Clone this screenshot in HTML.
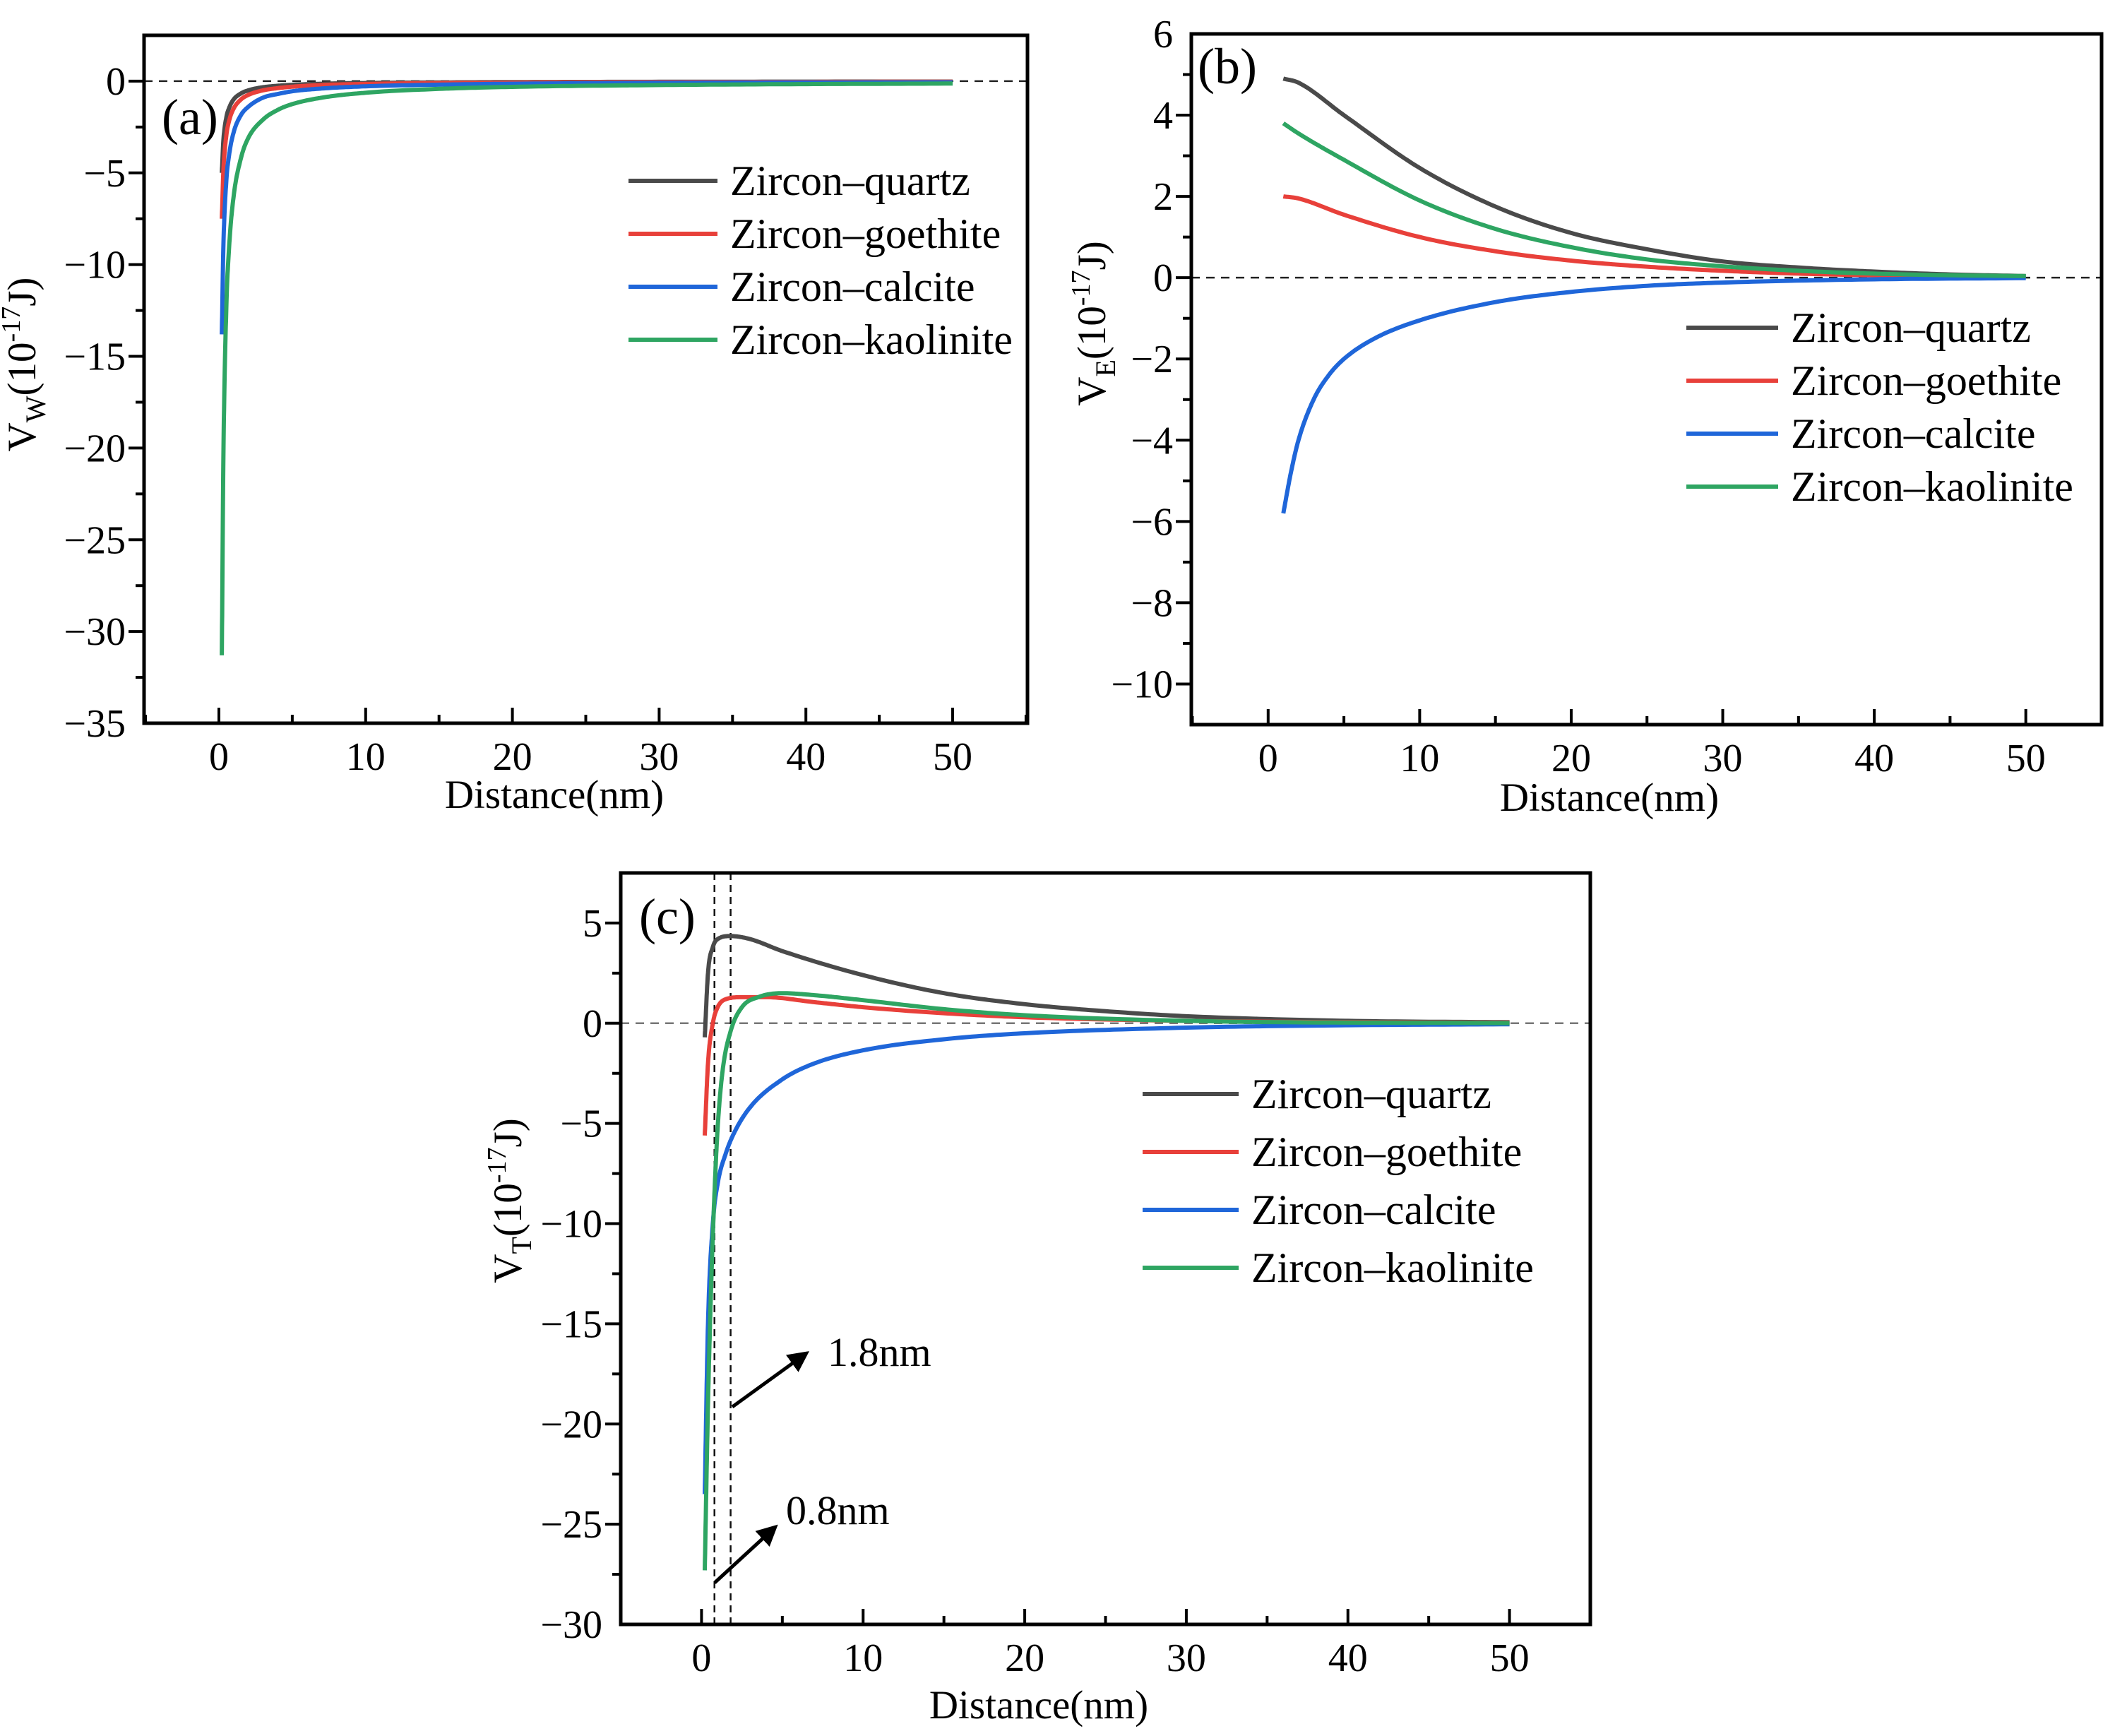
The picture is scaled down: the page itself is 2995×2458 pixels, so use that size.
<!DOCTYPE html>
<html><head><meta charset="utf-8"><style>
html,body{margin:0;padding:0;background:#fff}
svg{display:block;font-family:"Liberation Serif",serif}
</style></head><body>
<svg id="fig" width="2995" height="2458" viewBox="0 0 2995 2458" xmlns="http://www.w3.org/2000/svg"></svg>
<script>
// ---------- data ----------
const seriesNames = ["Zircon–quartz","Zircon–goethite","Zircon–calcite","Zircon–kaolinite"];
const seriesColors = ["#4a4a4a","#e8403a","#1f66d9","#2ea562"];
const xTicks = [0,10,20,30,40,50];

// panel a: V_W
const aX = [0.2,0.3,0.5,0.7,1,1.5,2,3,4,5,7,10,15,20,30,40,50];
const aQuartz = [-5,-3.3,-2,-1.45,-1,-0.67,-0.5,-0.33,-0.25,-0.2,-0.14,-0.1,-0.07,-0.05,-0.035,-0.025,-0.02];
const aGoethite = [-7.5,-5,-3,-2.15,-1.5,-1.0,-0.75,-0.5,-0.38,-0.3,-0.21,-0.15,-0.1,-0.08,-0.05,-0.04,-0.03];
const aCalcite = [-13.8,-9.2,-5.5,-4.0,-2.8,-1.85,-1.4,-0.9,-0.7,-0.55,-0.4,-0.28,-0.19,-0.14,-0.09,-0.07,-0.06];
const aKaolinite = [-31.3,-21,-12.5,-9.0,-6.3,-4.2,-3.1,-2.1,-1.57,-1.25,-0.9,-0.63,-0.42,-0.31,-0.21,-0.16,-0.13];
const aYTicks = [0,-5,-10,-15,-20,-25,-30,-35];

// panel b: V_E
const bXq = [1,2,5,10,15,20,25,30,35,40,45,50];
const bQuartz = [4.9,4.8,4.0,2.7,1.75,1.1,0.7,0.4,0.25,0.15,0.08,0.04];
const bKaolinite = [3.8,3.55,2.9,1.9,1.2,0.75,0.45,0.28,0.17,0.1,0.06,0.04];
const bGoethite = [2.0,1.95,1.55,1.0,0.65,0.42,0.27,0.17,0.1,0.06,0.04,0.02];
const bXc = [1,1.5,2,3,4,5,7,10,15,20,25,30,40,50];
const bCalcite = [-5.8,-4.8,-4.0,-3.0,-2.4,-2.0,-1.5,-1.05,-0.6,-0.35,-0.2,-0.12,-0.04,-0.01];
const bYTicks = [6,4,2,0,-2,-4,-6,-8,-10];

// panel c: V_T
const cXq = [0.2,0.4,0.7,1,1.8,3,5,10,15,20,25,30,40,50];
const cQuartz = [-0.7,2.5,3.8,4.2,4.35,4.2,3.6,2.4,1.5,0.95,0.6,0.35,0.12,0.05];
const cXg = [0.2,0.4,0.7,1,1.5,2.5,4,7,10,15,20,30,50];
const cGoethite = [-5.6,-2,0,0.8,1.2,1.3,1.3,1.05,0.8,0.5,0.3,0.12,0.02];
const cXc = [0.2,0.4,0.7,1,1.5,2,3,5,7,10,15,20,30,40,50];
const cCalcite = [-23.5,-15,-10,-8,-6.5,-5.5,-4.2,-2.8,-2.0,-1.35,-0.8,-0.5,-0.22,-0.1,-0.05];
const cXk = [0.2,0.4,0.6,0.8,1,1.3,1.8,2.5,3.5,5,7,10,15,20,30,50];
const cKaolinite = [-27.3,-19,-13,-8.5,-5.2,-2.4,-0.4,0.8,1.3,1.5,1.4,1.15,0.7,0.4,0.12,0.0];
const cYTicks = [5,0,-5,-10,-15,-20,-25,-30];
const cMarks = [0.8,1.8];

// ---------- drawing ----------
const NS="http://www.w3.org/2000/svg";
const svg=document.getElementById('fig');
function mk(tag,attrs,parent){const e=document.createElementNS(NS,tag);for(const k in attrs)e.setAttribute(k,attrs[k]);(parent||svg).appendChild(e);return e;}

function monoPath(xs,ys,sx,sy){
  const n=xs.length,d=[],m=[];
  for(let i=0;i<n-1;i++)d.push((ys[i+1]-ys[i])/(xs[i+1]-xs[i]));
  m[0]=d[0];m[n-1]=d[n-2];
  for(let i=1;i<n-1;i++){m[i]=(d[i-1]*d[i]<=0)?0:(d[i-1]+d[i])/2;}
  for(let i=0;i<n-1;i++){if(d[i]===0){m[i]=0;m[i+1]=0;continue;}const a=m[i]/d[i],b=m[i+1]/d[i],s=a*a+b*b;if(s>9){const t=3/Math.sqrt(s);m[i]=t*a*d[i];m[i+1]=t*b*d[i];}}
  let p="M"+sx(xs[0]).toFixed(1)+","+sy(ys[0]).toFixed(1);
  for(let i=0;i<n-1;i++){const h=xs[i+1]-xs[i];
    for(let k=1;k<=20;k++){const t=k/20,h00=2*t*t*t-3*t*t+1,h10=t*t*t-2*t*t+t,h01=-2*t*t*t+3*t*t,h11=t*t*t-t*t;
      const y=h00*ys[i]+h10*h*m[i]+h01*ys[i+1]+h11*h*m[i+1];const x=xs[i]+t*h;
      p+="L"+sx(x).toFixed(1)+","+sy(y).toFixed(1);}}
  return p;
}

function panel(cfg){
  const g=mk('g',{});
  
  
  const {L,R,T,B,xmin,xmax,ymin,ymax}=cfg;
  const sx=v=>L+(v-xmin)/(xmax-xmin)*(R-L);
  const sy=v=>B-(v-ymin)/(ymax-ymin)*(B-T);
  const z=mk('line',{x1:L,x2:R,y1:sy(0),y2:sy(0),stroke:cfg.zeroColor||'#222','stroke-width':2.5,'stroke-dasharray':'12,9'},g);
  
  
  (cfg.vlines||[]).forEach(v=>{const l=mk('line',{x1:sx(v),x2:sx(v),y1:T,y2:B,stroke:'#111','stroke-width':2.5,'stroke-dasharray':'10,7'},g);
    
    });
  cfg.series.forEach((s,i)=>{const p=mk('path',{d:monoPath(s.x,s.y,sx,sy),fill:'none',stroke:seriesColors[i],'stroke-width':6,'stroke-linejoin':'round'},g);
    
    });
  const f=mk('rect',{x:L,y:T,width:R-L,height:B-T,fill:'none',stroke:'#000','stroke-width':5},g);
  
  
  for(let v=xTicks[0]-5;v<=xTicks[xTicks.length-1]+5;v+=5){if(v<=xmin||v>=xmax)continue;
    const major=xTicks.includes(v);
    mk('line',{x1:sx(v),x2:sx(v),y1:B,y2:B-(major?22:12),stroke:'#000','stroke-width':4},g);}
  xTicks.forEach(v=>{const t=mk('text',{x:sx(v),y:B+cfg.xlabOff,'font-size':56,'text-anchor':'middle'},g);t.textContent=String(v);
    
    });
  const yt=cfg.yTicks,step=Math.abs(yt[0]-yt[1]);
  for(let v=Math.min(...yt)-step/2;v<=Math.max(...yt)+step/2;v+=step/2){if(v<=ymin+1e-9||v>=ymax-1e-9)continue;
    const major=yt.some(u=>Math.abs(u-v)<1e-9);
    mk('line',{x1:L,x2:L-(major?22:12),y1:sy(v),y2:sy(v),stroke:'#000','stroke-width':4},g);}
  yt.forEach(v=>{const t=mk('text',{x:L-26,y:sy(v)+19,'font-size':56,'text-anchor':'end'},g);t.textContent=(v<0?'\u2212'+(-v):String(v));
    
    });
  const xt=mk('text',{x:cfg.xTitle[0],y:cfg.xTitle[1],'font-size':57,'text-anchor':'middle'},g);xt.textContent='Distance(nm)';
  
  
  const ytt=mk('text',{x:0,y:0,'font-size':57,'text-anchor':'middle',transform:`translate(${cfg.yTitle[0]},${cfg.yTitle[1]}) rotate(-90)`},g);
  ytt.innerHTML=`V<tspan dy="14" font-size="40">${cfg.sub}</tspan><tspan dy="-14">(10</tspan><tspan dy="-22" font-size="38">-17</tspan><tspan dy="22">J)</tspan>`;
  
  
  const pl=mk('text',{x:cfg.letter[0],y:cfg.letter[1],'font-size':72},g);pl.textContent=cfg.letterText;
  
  
  const lg=mk('g',{},g);
  
  
  seriesNames.forEach((n,i)=>{const y=cfg.leg[2]+i*cfg.leg[3];
    mk('line',{x1:cfg.leg[0],x2:cfg.leg[1],y1:y,y2:y,stroke:seriesColors[i],'stroke-width':6},lg);
    const t=mk('text',{x:cfg.leg[1]+18,y:y+20,'font-size':60},lg);t.textContent=n;
    
    });
  return {g,sx,sy};
}

panel({name:'panel-a-vw',L:204,R:1455,T:50,B:1024,xmin:-5.1,xmax:55.1,ymin:-35,ymax:2.5,yTicks:aYTicks,xlabOff:66,
  series:[{x:aX,y:aQuartz},{x:aX,y:aGoethite},{x:aX,y:aCalcite},{x:aX,y:aKaolinite}],
  xTitle:[785,1144],yTitle:[50,516],sub:'W',letter:[229,190],letterText:'(a)',leg:[890,1016,256,75]});

panel({name:'panel-b-ve',L:1687,R:2976,T:48,B:1026,xmin:-5.07,xmax:55,ymin:-11,ymax:6,yTicks:bYTicks,xlabOff:66,
  series:[{x:bXq,y:bQuartz},{x:bXq,y:bGoethite},{x:bXc,y:bCalcite},{x:bXq,y:bKaolinite}],
  xTitle:[2279,1148],yTitle:[1565,458],sub:'E',letter:[1696,118],letterText:'(b)',leg:[2388,2518,464,75]});

panel({name:'panel-c-vt',L:879,R:2252,T:1236,B:2300,xmin:-5,xmax:55,ymin:-30,ymax:7.5,yTicks:cYTicks,xlabOff:66,zeroColor:'#777',
  series:[{x:cXq,y:cQuartz},{x:cXg,y:cGoethite},{x:cXc,y:cCalcite},{x:cXk,y:cKaolinite}],
  vlines:cMarks,
  xTitle:[1471,2433],yTitle:[738,1700],sub:'T',letter:[905,1322],letterText:'(c)',leg:[1618,1754,1549,82]});

const defs=mk('defs',{});
const mkr=mk('marker',{id:'ah',markerWidth:6,markerHeight:6,refX:5,refY:3,orient:'auto',markerUnits:'strokeWidth'},defs);
mk('path',{d:'M0,0 L6,3 L0,6 z',fill:'#000'},mkr);
const anns=[{x1:1037,y1:1992,x2:1142,y2:1916,tx:1172,ty:1934,t:'1.8nm'},{x1:1012,y1:2241,x2:1098,y2:2162,tx:1113,ty:2158,t:'0.8nm'}];
anns.forEach(a=>{const l=mk('line',{x1:a.x1,y1:a.y1,x2:a.x2,y2:a.y2,stroke:'#000','stroke-width':5,'marker-end':'url(#ah)'});
  
  
  const t=mk('text',{x:a.tx,y:a.ty,'font-size':58});t.textContent=a.t;
  
  });
</script>
</body></html>
